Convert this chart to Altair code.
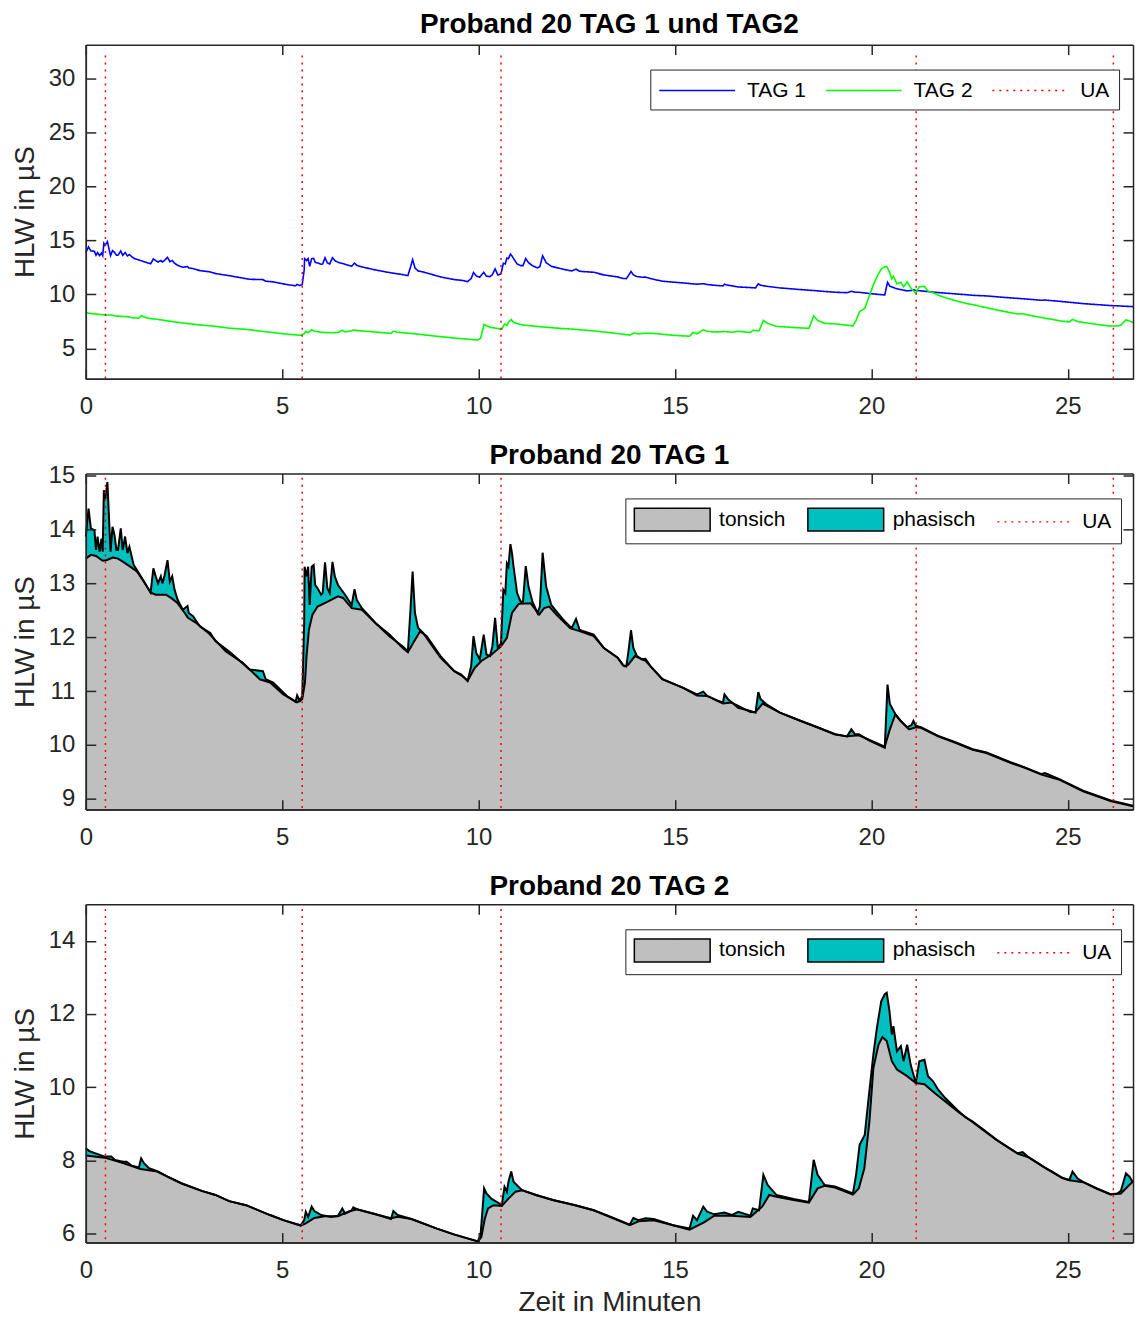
import altair as alt
import pandas as pd

FONT = "Liberation Sans"
AX = "#262626"

# ---------------- data ----------------
x_ticks = [0, 5, 10, 15, 20, 25]
ua_times = [0.50, 5.51, 10.57, 21.14, 26.16]

# TAG 1, total signal (HLW)
t1_raw = [0.00, 0.07, 0.13, 0.22, 0.26, 0.30, 0.35, 0.40, 0.43, 0.46, 0.49, 0.55, 0.59, 0.63, 0.68,
          0.73, 0.78, 0.82, 0.89, 0.94, 1.00, 1.06, 1.11, 1.22, 1.35, 1.65, 1.72, 1.78, 1.84, 1.91,
          1.95, 2.00, 2.08, 2.14, 2.20, 2.26, 2.34, 2.47, 2.59, 2.62, 2.73, 2.82, 2.91, 3.17, 3.30,
          3.69, 4.17, 4.51, 4.58, 4.77, 5.12, 5.34, 5.38, 5.45, 5.51, 5.56, 5.57, 5.62, 5.66, 5.70,
          5.75, 5.80, 5.84, 5.90, 5.99, 6.03, 6.09, 6.15, 6.21, 6.28, 6.34, 6.42, 6.60, 6.77, 6.84,
          6.90, 7.03, 7.38, 7.73, 8.07, 8.20, 8.27, 8.32, 8.38, 8.46, 8.59, 8.77, 9.03, 9.38, 9.55,
          9.64, 9.72, 9.81, 9.87, 9.94, 10.03, 10.13, 10.20, 10.29, 10.35, 10.42, 10.49, 10.57, 10.63,
          10.68, 10.72, 10.76, 10.81, 10.85, 10.89, 10.98, 11.07, 11.13, 11.20, 11.27, 11.37, 11.50,
          11.56, 11.63, 11.72, 11.85, 11.98, 12.15, 12.37, 12.48, 12.57, 12.67, 12.93, 13.19, 13.54,
          13.67, 13.76, 13.81, 13.88, 13.94, 14.03, 14.16, 14.25, 14.38, 14.68, 15.21, 15.56, 15.72,
          15.82, 16.09, 16.22, 16.26, 16.35, 16.61, 16.92, 17.05, 17.12, 17.18, 17.32, 17.67, 18.19,
          18.63, 19.07, 19.38, 19.49, 19.58, 19.68, 19.95, 20.34, 20.41, 20.47, 20.61, 20.74, 20.91,
          21.02, 21.07, 21.13, 21.26, 21.70, 22.14, 22.58, 22.93, 23.54, 23.89, 24.33, 24.42, 24.77,
          25.39, 26.09, 26.66]
v1_raw = [13.87, 14.39, 14.02, 13.99, 13.62, 13.87, 13.59, 13.83, 13.59, 14.73, 14.54, 14.88, 14.23, 13.59, 14.05,
          13.90, 13.62, 13.62, 14.02, 13.62, 13.87, 13.56, 13.68, 13.34, 13.19, 12.83, 13.28, 13.13, 13.00, 13.13,
          13.00, 13.13, 13.43, 13.03, 13.13, 12.88, 12.69, 12.51, 12.58, 12.45, 12.39, 12.29, 12.20, 12.08, 11.93,
          11.71, 11.40, 11.37, 11.22, 11.16, 10.91, 10.80, 10.92, 10.82, 10.91, 12.26, 13.31, 13.13, 13.31, 12.60,
          13.31, 13.34, 12.97, 12.91, 12.79, 12.82, 13.39, 12.91, 12.82, 13.40, 13.13, 12.97, 12.79, 12.60, 12.89,
          12.69, 12.54, 12.26, 12.02, 11.83, 11.74, 12.57, 13.22, 12.45, 12.17, 12.08, 11.89, 11.62, 11.37, 11.31,
          11.25, 11.19, 11.46, 12.02, 11.71, 11.59, 12.05, 11.68, 11.65, 11.83, 12.36, 11.80, 11.89, 12.88,
          12.82, 13.37, 13.31, 13.73, 13.56, 13.31, 12.82, 12.66, 12.66, 13.32, 12.94, 12.66, 12.45,
          12.57, 13.57, 12.94, 12.60, 12.48, 12.33, 12.17, 12.34, 12.14, 12.11, 12.05, 11.80, 11.62,
          11.48, 11.46, 11.71, 12.13, 11.80, 11.65, 11.59, 11.60, 11.46, 11.22, 11.06, 10.94, 10.99,
          10.91, 10.82, 10.79, 10.94, 10.85, 10.69, 10.63, 10.60, 10.98, 10.85, 10.76, 10.60, 10.45,
          10.33, 10.20, 10.16, 10.29, 10.20, 10.20, 10.08, 9.95, 11.12, 10.76, 10.57, 10.45, 10.33,
          10.37, 10.45, 10.36, 10.33, 10.17, 10.05, 9.92, 9.86, 9.68, 9.59, 9.46, 9.48, 9.37,
          9.15, 8.97, 8.87]

# TAG 1, tonic component
t1_ton = [0.00, 0.13, 0.26, 0.43, 0.52, 0.69, 0.82, 0.95, 1.13, 1.30, 1.48, 1.65, 1.78, 2.04, 2.17,
          2.34, 2.52, 2.60, 2.82, 3.12, 3.56, 3.99, 4.43, 4.69, 5.03, 5.38, 5.51, 5.58, 5.62, 5.68,
          5.77, 5.90, 6.16, 6.42, 6.55, 6.77, 7.03, 7.38, 7.73, 8.07, 8.20, 8.33, 8.51, 8.68, 9.03,
          9.38, 9.59, 9.72, 9.90, 10.07, 10.33, 10.57, 10.72, 10.85, 11.02, 11.33, 11.54, 11.67, 11.80,
          11.98, 12.33, 12.59, 12.93, 13.19, 13.54, 13.71, 13.81, 13.98, 14.25, 14.68, 15.21, 15.56,
          15.82, 16.22, 16.44, 16.92, 17.05, 17.23, 17.67, 18.19, 19.07, 19.38, 19.68, 20.34, 20.47,
          20.61, 20.74, 20.96, 21.13, 21.26, 21.70, 22.14, 22.58, 22.93, 23.54, 23.89, 24.33, 24.77,
          25.39, 26.09, 26.66]
v1_ton = [13.46, 13.53, 13.51, 13.42, 13.43, 13.48, 13.46, 13.40, 13.31, 13.22, 13.03, 12.83, 12.79, 12.79, 12.73,
          12.63, 12.45, 12.36, 12.26, 12.08, 11.74, 11.53, 11.22, 11.16, 10.94, 10.79, 10.85, 11.16, 11.65, 12.14,
          12.42, 12.57, 12.66, 12.76, 12.73, 12.54, 12.51, 12.26, 12.05, 11.80, 11.72, 11.89, 12.11, 12.02, 11.65,
          11.37, 11.28, 11.19, 11.43, 11.56, 11.68, 11.83, 11.99, 12.45, 12.62, 12.63, 12.42, 12.54, 12.57,
          12.42, 12.17, 12.11, 12.02, 11.80, 11.62, 11.46, 11.49, 11.65, 11.56, 11.22, 11.06, 10.92,
          10.91, 10.77, 10.79, 10.61, 10.61, 10.77, 10.60, 10.45, 10.20, 10.16, 10.18, 9.97, 10.29,
          10.57, 10.45, 10.29, 10.33, 10.32, 10.16, 10.04, 9.91, 9.85, 9.67, 9.58, 9.45, 9.36,
          9.14, 8.96, 8.86]

# TAG 2, total signal (HLW)
t2_raw = [0.00, 0.09, 0.48, 0.65, 0.74, 0.95, 1.04, 1.17, 1.35, 1.41, 1.48, 1.61, 1.82, 2.08, 2.43,
          2.95, 3.30, 3.65, 4.08, 4.17, 4.69, 5.03, 5.47, 5.56, 5.60, 5.66, 5.75, 5.82, 5.99, 6.25,
          6.42, 6.53, 6.60, 6.77, 6.81, 6.90, 7.38, 7.77, 7.83, 7.94, 8.29, 8.94, 9.37, 9.98, 10.05,
          10.14, 10.20, 10.33, 10.46, 10.59, 10.66, 10.72, 10.76, 10.83, 10.89, 11.02, 11.11, 11.46,
          11.89, 12.46, 12.93, 13.37, 13.85, 13.94, 14.07, 14.25, 14.46, 14.95, 15.37, 15.46, 15.56,
          15.72, 15.82, 16.00, 16.26, 16.44, 16.61, 16.92, 16.98, 17.14, 17.25, 17.36, 17.58, 18.02,
          18.41, 18.53, 18.63, 18.81, 19.07, 19.53, 19.61, 19.70, 19.83, 19.92, 20.05, 20.14, 20.25,
          20.34, 20.39, 20.46, 20.52, 20.56, 20.65, 20.75, 20.82, 20.91, 21.00, 21.13, 21.22, 21.35,
          21.44, 21.57, 21.70, 21.88, 22.23, 22.40, 22.58, 22.80, 23.19, 23.72, 23.85, 23.98, 24.42,
          24.60, 24.86, 25.04, 25.12, 25.25, 25.39, 25.74, 26.09, 26.26, 26.35, 26.48, 26.57, 26.66]
v2_raw = [8.33, 8.25, 8.10, 8.10, 8.01, 7.96, 7.96, 7.85, 7.80, 8.05, 7.92, 7.78, 7.70, 7.55, 7.37,
          7.16, 7.05, 6.88, 6.77, 6.73, 6.50, 6.36, 6.22, 6.36, 6.59, 6.45, 6.73, 6.61, 6.50, 6.45,
          6.48, 6.68, 6.54, 6.63, 6.71, 6.66, 6.52, 6.39, 6.61, 6.50, 6.39, 6.13, 5.97, 5.78, 5.95,
          7.23, 7.09, 6.94, 6.86, 6.77, 7.27, 7.14, 7.41, 7.69, 7.41, 7.27, 7.18, 7.05,
          6.91, 6.77, 6.63, 6.45, 6.24, 6.42, 6.36, 6.41, 6.39, 6.22, 6.13, 6.48, 6.36,
          6.73, 6.59, 6.52, 6.57, 6.50, 6.59, 6.48, 6.68, 6.63, 7.60, 7.32, 7.05, 6.94,
          6.86, 8.01, 7.60, 7.32, 7.28, 7.09, 7.60, 8.42, 8.69, 9.61, 10.89, 11.62, 12.35,
          12.54, 12.58, 12.08, 11.44, 11.67, 10.98, 11.12, 10.71, 11.16, 10.61, 10.11, 10.71, 10.75,
          10.30, 10.16, 9.93, 9.70, 9.33, 9.17, 9.06, 8.88, 8.56, 8.19, 8.22, 8.10, 7.80,
          7.69, 7.52, 7.46, 7.69, 7.50, 7.41, 7.23, 7.07, 7.09, 7.16, 7.64, 7.55, 7.39]

# TAG 2, tonic component
t2_ton = [0.00, 0.48, 0.95, 1.39, 1.82, 2.08, 2.43, 2.95, 3.30, 3.65, 4.08, 4.17, 4.69, 5.03, 5.47,
          5.60, 5.82, 6.08, 6.42, 6.68, 6.90, 7.38, 7.77, 7.94, 8.29, 8.94, 9.37, 9.98, 10.07, 10.16,
          10.24, 10.38, 10.59, 10.76, 10.94, 11.11, 11.46, 11.89, 12.46, 12.93, 13.85, 14.07, 14.46,
          14.95, 15.37, 15.74, 16.00, 16.44, 16.92, 17.22, 17.40, 17.58, 18.02, 18.41, 18.63, 18.81,
          19.07, 19.53, 19.68, 19.82, 19.95, 20.05, 20.18, 20.28, 20.39, 20.52, 20.65, 20.91, 21.13,
          21.35, 21.61, 21.88, 22.23, 22.58, 22.80, 23.19, 23.72, 23.98, 24.42, 24.86, 25.04, 25.39,
          25.74, 26.09, 26.35, 26.61, 26.66]
v2_ton = [8.13, 8.07, 7.92, 7.76, 7.69, 7.55, 7.37, 7.16, 7.05, 6.88, 6.77, 6.73, 6.50, 6.36, 6.21,
          6.27, 6.42, 6.47, 6.47, 6.59, 6.66, 6.52, 6.41, 6.45, 6.39, 6.13, 5.97, 5.78, 5.90, 6.41,
          6.68, 6.77, 6.75, 6.95, 7.14, 7.18, 7.05, 6.91, 6.77, 6.63, 6.22, 6.33, 6.36,
          6.22, 6.10, 6.30, 6.48, 6.48, 6.45, 6.73, 7.05, 7.00, 6.91, 6.84, 7.23, 7.30,
          7.25, 7.06, 7.23, 7.78, 9.06, 10.52, 11.16, 11.37, 11.26, 10.71, 10.48, 10.30, 10.11,
          10.08, 9.84, 9.61, 9.31, 9.04, 8.86, 8.55, 8.18, 8.09, 7.79, 7.51, 7.45, 7.40,
          7.22, 7.06, 7.09, 7.37, 7.41]

# ---------------- layout / style ----------------
X_MAX = 26.66
W = 1050
H1, H2, H3 = 335, 337, 339

xs = alt.Scale(domain=[0, X_MAX], nice=False, zero=False)

AXSTYLE = dict(domainColor=AX, domainWidth=1.5, tickColor=AX, tickWidth=1.5,
               labelColor=AX, labelFont=FONT, labelFontSize=24, labelFlush=False,
               titleFont=FONT, titleFontSize=28, titleFontWeight="normal", titleColor=AX,
               grid=False, zindex=1)

LINE_SYM = "M-3.4545,0H3.4545"
RECT_SYM = "M-3.4545,-1.045H3.4545V1.045H-3.4545Z"


def axes(H, yvals, xtitle):
    xA = alt.Axis(values=x_ticks, orient="bottom", ticks=False, tickSize=0, labelPadding=16,
                  title=xtitle, titlePadding=6, **AXSTYLE)
    yA = alt.Axis(values=yvals, orient="left", ticks=False, tickSize=0, labelPadding=11,
                  title="HLW in µS", titlePadding=9, **AXSTYLE)
    xB = alt.Axis(values=x_ticks, orient="top", offset=-H, labels=False, tickSize=10, title=None, **AXSTYLE)
    yB = alt.Axis(values=yvals, orient="right", offset=-W, labels=False, tickSize=10, title=None, **AXSTYLE)
    xC = alt.Axis(values=x_ticks, orient="bottom", offset=-H, labels=False, tickSize=10, title=None, **AXSTYLE)
    yC = alt.Axis(values=yvals, orient="left", offset=-W, labels=False, tickSize=10, title=None, **AXSTYLE)
    return (xA, yA), (xB, yB), (xC, yC)


def title(text, off):
    return alt.Title(text, font=FONT, fontSize=28, fontWeight="bold", color="black",
                     anchor="middle", frame="group", offset=off)


def legend(x, y, lo, cp, **kw):
    return alt.Legend(title=None, orient="none", legendX=x, legendY=y, direction="horizontal",
                      symbolSize=484, symbolStrokeWidth=1.5, symbolOpacity=1, symbolOffset=26,
                      labelFont=FONT, labelFontSize=21, labelColor="black", labelOffset=lo,
                      columnPadding=cp, padding=9, strokeColor=AX, fillColor="white", **kw)


# ---------- panel 1 ----------
ys1 = alt.Scale(domain=[2.2, 33.1], nice=False, zero=False)
dom1 = ["TAG 1", "TAG 2", "UA"]
c1 = alt.Scale(domain=dom1, range=["#0000ff", "#00ff00", "#ff0000"])
d1 = alt.Scale(domain=dom1, range=[[1, 0], [1, 0], [2, 5]])
leg1 = legend(566, 25, 38, 16, symbolType=LINE_SYM)
(a1, b1, cc1) = axes(H1, [5, 10, 15, 20, 25, 30], None)

df_t1 = pd.DataFrame({"t": t1_raw, "v": v1_raw, "k": "TAG 1"})
df_t2 = pd.DataFrame({"t": t2_raw, "v": v2_raw, "k": "TAG 2"})
ua1 = pd.DataFrame({"t": ua_times, "top": 32.1, "bot": 2.2, "k": "UA"})

p1 = alt.layer(
    alt.Chart(df_t1).mark_line(strokeWidth=1.6).encode(
        x=alt.X("t:Q", scale=xs, axis=a1[0]), y=alt.Y("v:Q", scale=ys1, axis=a1[1]),
        color=alt.Color("k:N", scale=c1, legend=leg1),
        strokeDash=alt.StrokeDash("k:N", scale=d1, legend=leg1)),
    alt.Chart(df_t2).mark_line(strokeWidth=1.6).encode(
        x=alt.X("t:Q", scale=xs, axis=b1[0]), y=alt.Y("v:Q", scale=ys1, axis=b1[1]),
        color=alt.Color("k:N", scale=c1, legend=leg1),
        strokeDash=alt.StrokeDash("k:N", scale=d1, legend=leg1)),
    alt.Chart(ua1).mark_rule(strokeWidth=1.5).encode(
        x=alt.X("t:Q", scale=xs, axis=cc1[0]), y=alt.Y("top:Q", scale=ys1, axis=cc1[1]), y2="bot:Q",
        color=alt.Color("k:N", scale=c1, legend=leg1),
        strokeDash=alt.StrokeDash("k:N", scale=d1, legend=leg1)),
).resolve_axis(x="independent", y="independent").properties(
    width=W, height=H1, title=title("Proband 20 TAG 1 und TAG2", 5))

# ---------- panels 2 and 3 ----------
dom2 = ["tonsich", "phasisch", "UA"]
fill2 = alt.Scale(domain=dom2, range=["#bfbfbf", "#00bfbf", "transparent"])
stroke2 = alt.Scale(domain=dom2, range=["#000000", "#000000", "#ff0000"])
dash2 = alt.Scale(domain=dom2, range=[[1, 0], [1, 0], [2, 5]])
shape2 = alt.Scale(domain=dom2, range=[RECT_SYM, RECT_SYM, LINE_SYM])


def decomposition(t_raw, v_raw, t_ton, v_ton, ydom, yvals, H, ua_top, ttl, toff, legy, xtitle):
    ys = alt.Scale(domain=ydom, nice=False, zero=False)
    leg = legend(541, legy, 35, 19)
    (A, B, C) = axes(H, yvals, xtitle)
    raw = pd.DataFrame({"t": t_raw, "v": v_raw, "base": ydom[0], "k": "phasisch"})
    ton = pd.DataFrame({"t": t_ton, "v": v_ton, "base": ydom[0], "k": "tonsich"})
    ua = pd.DataFrame({"t": ua_times, "top": ua_top, "bot": ydom[0], "k": "UA"})
    no_rows = pd.DataFrame({"t": pd.Series([], dtype=float), "v": pd.Series([], dtype=float),
                            "k": pd.Series([], dtype=str)})
    return alt.layer(
        alt.Chart(raw).mark_area(opacity=1).encode(
            x=alt.X("t:Q", scale=xs, axis=A[0]), y=alt.Y("v:Q", scale=ys, axis=A[1]), y2="base:Q",
            fill=alt.Fill("k:N", scale=fill2, legend=leg)),
        alt.Chart(ton).mark_area(opacity=1).encode(
            x=alt.X("t:Q", scale=xs, axis=None), y=alt.Y("v:Q", scale=ys, axis=None), y2="base:Q",
            fill=alt.Fill("k:N", scale=fill2, legend=leg)),
        alt.Chart(raw).mark_line(color="black", strokeWidth=2).encode(
            x=alt.X("t:Q", scale=xs, axis=B[0]), y=alt.Y("v:Q", scale=ys, axis=B[1])),
        alt.Chart(ton).mark_line(color="black", strokeWidth=2).encode(
            x=alt.X("t:Q", scale=xs, axis=C[0]), y=alt.Y("v:Q", scale=ys, axis=C[1])),
        alt.Chart(ua).mark_rule(strokeWidth=1.5).encode(
            x=alt.X("t:Q", scale=xs, axis=None), y=alt.Y("top:Q", scale=ys, axis=None), y2="bot:Q",
            stroke=alt.Stroke("k:N", scale=stroke2, legend=leg),
            strokeDash=alt.StrokeDash("k:N", scale=dash2, legend=leg)),
        alt.Chart(no_rows).mark_point(opacity=1).encode(
            x=alt.X("t:Q", scale=xs, axis=None), y=alt.Y("v:Q", scale=ys, axis=None),
            shape=alt.Shape("k:N", scale=shape2, legend=leg)),
    ).resolve_axis(x="independent", y="independent").properties(
        width=W, height=H, title=title(ttl, toff))


p2 = decomposition(t1_raw, v1_raw, t1_ton, v1_ton, [8.8, 15.04], [9, 10, 11, 12, 13, 14, 15], H2,
                   14.96, "Proband 20 TAG 1", -6, 25, None)
p3 = decomposition(t2_raw, v2_raw, t2_ton, v2_ton, [5.75, 15.0], [6, 8, 10, 12, 14], H3,
                   14.87, "Proband 20 TAG 2", 3, 25, "Zeit in Minuten")

chart = alt.vconcat(p1, p2, p3, spacing=21).resolve_scale(
    color="independent", fill="independent", stroke="independent",
    strokeDash="independent", shape="independent"
).properties(
    padding={"left": 2, "top": 0, "right": 0, "bottom": 0}
).configure_view(stroke="transparent")

chart.save("out.html", embed_options={"renderer": "svg", "actions": False})
